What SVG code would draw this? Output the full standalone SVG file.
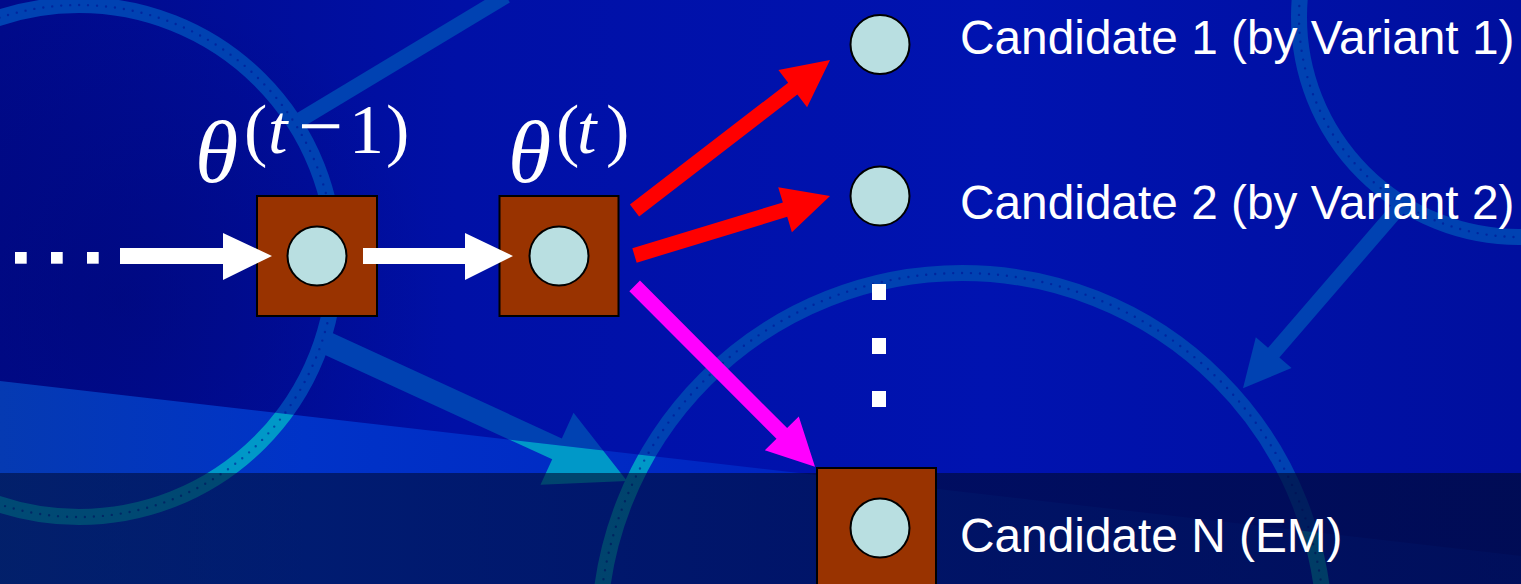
<svg xmlns="http://www.w3.org/2000/svg" xmlns:xlink="http://www.w3.org/1999/xlink" width="1521" height="584" viewBox="0 0 1521 584">
  <style>
    .box { fill: #993300; stroke: #000; stroke-width: 2; }
    .node { fill: #b9dfe1; stroke: #000; stroke-width: 2; }
    .label { font-family: "Liberation Sans", Arial, sans-serif; font-size: 47.8px; fill: #fff; }
    .math { font-family: "Liberation Serif", "DejaVu Serif", serif; fill: #fff; }
    .it { font-style: italic; }
    .ring { fill: none; stroke: currentColor; stroke-width: 16; }
    .bar { fill: none; stroke: currentColor; stroke-width: 15; }
    .tex { fill: none; stroke: #00118e; stroke-opacity: 0.55; stroke-width: 2.4; stroke-linecap: round; stroke-dasharray: 0 9; }
  </style>
  <defs>
    <linearGradient id="bgGrad" x1="0" y1="0" x2="1" y2="0">
      <stop offset="0" stop-color="#000a8a"/>
      <stop offset="0.3" stop-color="#0010a6"/>
      <stop offset="0.65" stop-color="#0013b0"/>
      <stop offset="1" stop-color="#000f9e"/>
    </linearGradient>
    <radialGradient id="shade" cx="120" cy="300" r="320" gradientUnits="userSpaceOnUse">
      <stop offset="0" stop-color="#000670" stop-opacity="0.45"/>
      <stop offset="1" stop-color="#000670" stop-opacity="0"/>
    </radialGradient>
    <linearGradient id="wedgeGrad" x1="0" y1="0" x2="1521" y2="0" gradientUnits="userSpaceOnUse">
      <stop offset="0" stop-color="#053ab2"/>
      <stop offset="0.2" stop-color="#0033c8"/>
      <stop offset="0.5" stop-color="#0026c2"/>
      <stop offset="1" stop-color="#0018b0"/>
    </linearGradient>
    <linearGradient id="bandGrad" x1="0" y1="0" x2="1" y2="0">
      <stop offset="0" stop-color="#000a30" stop-opacity="0.55"/>
      <stop offset="1" stop-color="#000a30" stop-opacity="0.66"/>
    </linearGradient>
    <clipPath id="wedgeClip">
      <polygon points="0,381 1521,556 1521,584 0,584"/>
    </clipPath>
    <!-- background ornament: rings, bars and arrows -->
    <g id="ornament">
      <circle class="ring" cx="79" cy="261" r="256"/>
      <circle class="ring" cx="962" cy="636" r="363"/>
      <circle class="ring" cx="1519" cy="17" r="220"/>
      <line class="bar" x1="300" y1="120" x2="506" y2="-4"/>
      <polygon fill="currentColor" points="315.2,350.45 552.22,459.31 540.49,484.85 627,481 573.55,412.87 561.82,438.41 324.8,329.55"/>
      <polygon fill="currentColor" points="1396.32,199.1 1268.01,347.81 1255.82,337.3 1243,388.3 1291.56,368.12 1279.37,357.61 1407.68,208.9"/>
    </g>
    <g id="ornamentDots">
      <circle class="tex" cx="79" cy="261" r="256"/>
      <circle class="tex" cx="962" cy="636" r="363"/>
      <circle class="tex" cx="1519" cy="17" r="220"/>
    </g>
  </defs>

  <!-- backdrop -->
  <rect x="0" y="0" width="1521" height="584" fill="url(#bgGrad)"/>
  <rect x="0" y="0" width="1521" height="584" fill="url(#shade)"/>
  <use xlink:href="#ornament" color="#0042b2"/>
  <polygon points="0,381 1521,556 1521,584 0,584" fill="url(#wedgeGrad)"/>
  <use xlink:href="#ornament" color="#0098c8" clip-path="url(#wedgeClip)"/>
  <use xlink:href="#ornamentDots"/>
  <rect x="0" y="473" width="1521" height="111" fill="url(#bandGrad)"/>

  <!-- nodes -->
  <g id="lead-dots" fill="#fff">
    <rect x="15" y="252" width="11.7" height="11.7"/>
    <rect x="51" y="252" width="11.7" height="11.7"/>
    <rect x="87" y="252" width="11.7" height="11.7"/>
  </g>

  <g id="theta-prev">
    <rect class="box" x="257" y="196" width="120" height="120"/>
    <circle class="node" cx="317" cy="256" r="29.5"/>
    <text class="math it" x="195" y="182" font-size="88">θ</text>
    <text class="math" y="153" font-size="70"><tspan x="244">(</tspan><tspan class="it" x="268">t</tspan><tspan x="298" font-size="80">−</tspan><tspan x="349">1</tspan><tspan x="386">)</tspan></text>
  </g>

  <g id="theta-curr">
    <rect class="box" x="499.5" y="196" width="119" height="120"/>
    <circle class="node" cx="559" cy="256" r="29.5"/>
    <text class="math it" x="508" y="182" font-size="88">θ</text>
    <text class="math" y="153" font-size="70"><tspan x="556">(</tspan><tspan class="it" x="577">t</tspan><tspan x="606">)</tspan></text>
  </g>

  <g id="candidate-1">
    <circle class="node" cx="880" cy="44.5" r="29.5"/>
    <text class="label" x="960" y="54">Candidate 1 (by Variant 1)</text>
  </g>

  <g id="candidate-2">
    <circle class="node" cx="880" cy="196" r="29.5"/>
    <text class="label" x="960" y="219">Candidate 2 (by Variant 2)</text>
  </g>

  <g id="ellipsis" fill="#fff">
    <rect x="872" y="284" width="14" height="16"/>
    <rect x="872" y="338" width="14" height="16"/>
    <rect x="872" y="391" width="14" height="16"/>
  </g>

  <g id="candidate-n">
    <rect class="box" x="817" y="468" width="119" height="120"/>
    <circle class="node" cx="880" cy="528" r="29.5"/>
    <text class="label" x="960" y="552">Candidate N (EM)</text>
  </g>

  <!-- connectors -->
  <g id="connectors">
    <polygon fill="#fff" points="120,248 223,248 223,233 272,256 223,280 223,264 120,264"/>
    <polygon fill="#fff" points="363,248 465,248 465,233 513,256 465,280 465,264 363,264"/>
    <polygon fill="#ff0000" points="639.08,216.44 797.33,94.61 807.09,107.29 830,60 778.41,70.05 788.17,82.73 629.92,204.56"/>
    <polygon fill="#ff0000" points="636.68,262.68 787.22,216.87 791.88,232.17 830,196 778.2,187.21 782.86,202.51 632.32,248.32"/>
    <polygon fill="#ff00ff" points="629.34,291.15 776.5,438.72 764.82,450.37 815,466.7 798.8,416.47 787.12,428.12 639.96,280.55"/>
  </g>
</svg>
